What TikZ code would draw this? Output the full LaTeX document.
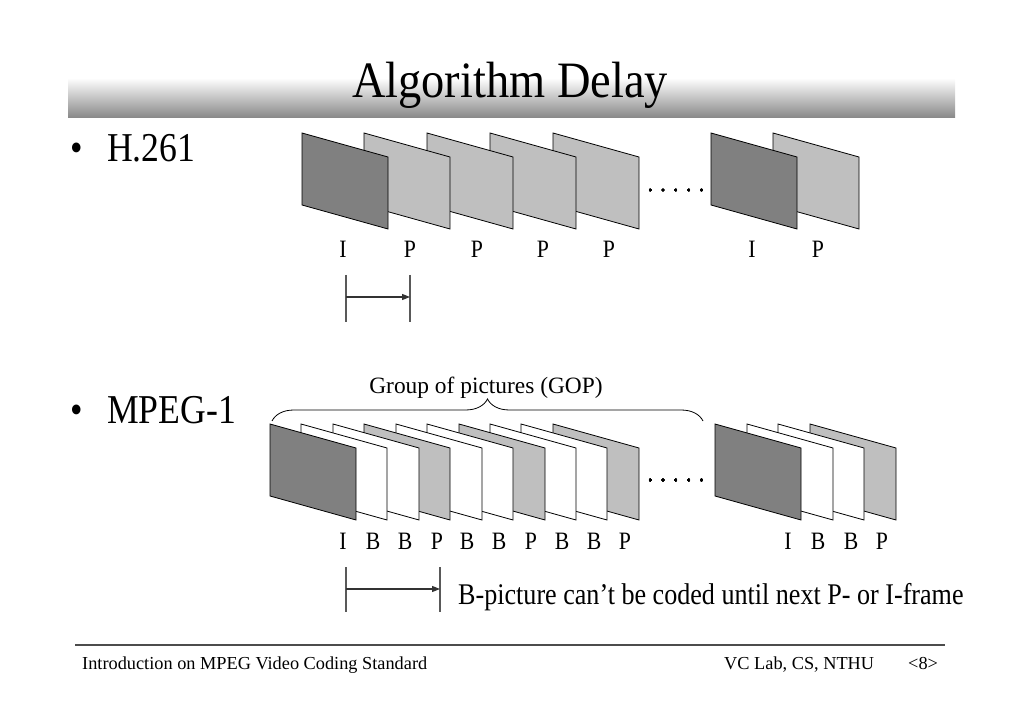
\documentclass[tikz,border=0pt]{standalone}
\usepackage{fontspec}
\setmainfont{Liberation Serif}
\usetikzlibrary{arrows.meta,decorations.pathreplacing}

\newcommand{\slim}[1]{\scalebox{0.87}[1]{#1}}
\newcommand{\vframe}[3]{\draw[#3] (#1,#2) -- ++(86,24) -- ++(0,72) -- ++(-86,-24) -- cycle;}

\tikzset{
  iframe/.style={draw=black, fill=black!50, line width=0.8pt},
  pframe/.style={draw=black, fill=black!25, line width=0.8pt},
  bframe/.style={draw=black, fill=white, line width=0.8pt},
  tick/.style={draw=black!65, line width=1.1pt},
  delay/.style={draw=black!80, line width=1.1pt, -{Triangle[length=8pt,width=6pt]}},
  lbl/.style={font=\fontsize{25}{25}\selectfont, anchor=base, inner sep=0pt},
  bullet/.style={font=\fontsize{41}{41}\selectfont, anchor=base west, inner sep=0pt},
}

\begin{document}
\begin{tikzpicture}[x=1pt, y=-1pt]
  \useasboundingbox (0,0) rectangle (1023,708);

  % title bar
  \fill[white] (68,55) rectangle (955,78);
  \shade[top color=white, bottom color=black!47] (68,78) rectangle (955,118);
  \node[font=\fontsize{51}{51}\selectfont, anchor=base, inner sep=0pt] (title) at (510,98) {\scalebox{0.91}[1]{Algorithm Delay}};

  % bullets
  \node[bullet] (b1) at (70,162) {\slim{\textbullet}};
  \node[bullet] (h261) at (107,162) {\slim{H.261}};
  \node[bullet] (b2) at (70,424) {\slim{\textbullet}};
  \node[bullet] (mpeg) at (107,424) {\slim{MPEG-1}};

  % H.261 frames
  \foreach \x/\s in {773/pframe, 711/iframe, 553/pframe, 490/pframe, 427/pframe, 364/pframe, 302/iframe}
    \vframe{\x}{133}{\s}
  \node[font=\fontsize{22}{22}\selectfont, anchor=base, inner sep=0pt] (hdots) at (676,192) {. . . . .};
  \foreach \x/\t [count=\i] in {343/I, 410/P, 477/P, 543/P, 609/P, 752/I, 818/P}
    \node[lbl] (hl\i) at (\x,258) {\slim{\t}};

  \coordinate (ha) at (346,297);
  \coordinate (hb) at (410,297);
  \draw[tick] (346,275) -- (346,322);
  \draw[tick] (410,275) -- (410,322);
  \draw[delay] (ha) -- (hb);

  % MPEG-1 frames
  \foreach \x/\s in {810/pframe, 778/bframe, 747/bframe, 715/iframe,
                     553/pframe, 521/bframe, 490/bframe, 459/pframe, 427/bframe,
                     396/bframe, 364/pframe, 333/bframe, 301/bframe, 270/iframe}
    \vframe{\x}{424}{\s}
  \node[font=\fontsize{22}{22}\selectfont, anchor=base, inner sep=0pt] (mdots) at (676,482) {. . . . .};
  \foreach \x/\t [count=\i] in {343/I, 373/B, 405/B, 437/P, 467/B, 499/B, 531/P, 562/B, 594/B, 625/P,
                                788/I, 818/B, 851/B, 882/P}
    \node[lbl] (ml\i) at (\x,549) {\slim{\t}};

  % GOP brace
  \coordinate (g0) at (272,421);
  \coordinate (g1) at (703,421);
  \draw[line width=0.8pt, decoration={brace, amplitude=22pt}, decorate] (g0) -- (g1);
  \node[font=\fontsize{23.4}{23.4}\selectfont, anchor=base, inner sep=0pt] (gop) at (486,394) {Group of pictures (GOP)};

  \coordinate (ma) at (346,589);
  \coordinate (mb) at (440,589);
  \draw[tick] (346,567) -- (346,612);
  \draw[tick] (440,567) -- (440,612);
  \draw[delay] (ma) -- (mb);
  \node[font=\fontsize{30}{30}\selectfont, anchor=base west, inner sep=0pt] (note) at (458,604) {\slim{B-picture can’t be coded until next P- or I-frame}};

  % footer
  \draw[black!70, line width=2pt] (75,645) -- (945,645);
  \node[font=\fontsize{18.3}{18.3}\selectfont, anchor=base west, inner sep=0pt] (foot) at (82,669) {Introduction on MPEG Video Coding Standard};
  \node[font=\fontsize{18.3}{18.3}\selectfont, anchor=base west, inner sep=0pt] (lab) at (724,669) {VC Lab, CS, NTHU};
  \node[font=\fontsize{18.3}{18.3}\selectfont, anchor=base west, inner sep=0pt] (page) at (908,669) {<8>};
\end{tikzpicture}
\end{document}
